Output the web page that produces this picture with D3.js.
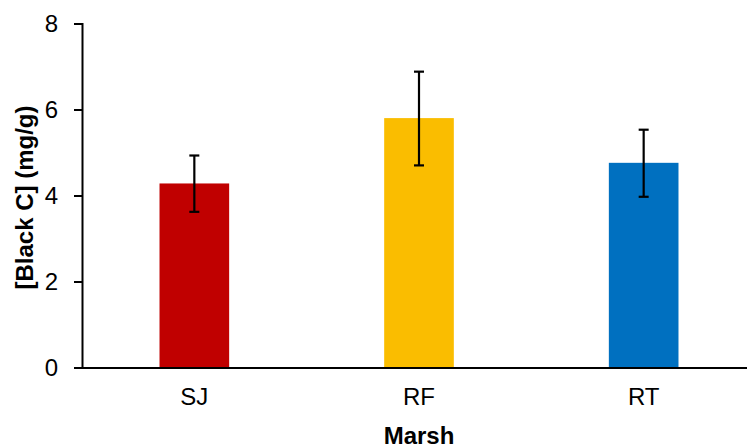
<!DOCTYPE html>
<html>
<head>
<meta charset="utf-8">
<script src="https://cdn.jsdelivr.net/npm/d3@7"></script>
<style>
  body { margin: 0; background: #fff; }
  text { font-family: "Liberation Sans", Arial, sans-serif; }
</style>
</head>
<body>
<div id="chart"></div>
<script>
// values
const marshes = ["SJ", "RF", "RT"];
const blackC = [4.28, 5.80, 4.76];
const errLow = [3.62, 4.70, 3.97];
const errHigh = [4.93, 6.88, 5.53];
const barColors = ["#C00000", "#FABD00", "#0070C0"];
const yTicks = [0, 2, 4, 6, 8];

const width = 747, height = 448;
const margin = { left: 82, right: -9, top: 23.5, bottom: 80.5 };

const svg = d3.select("#chart")
    .append("svg")
    .attr("width", width)
    .attr("height", height);

const x = d3.scaleBand()
    .domain(marshes)
    .range([margin.left, width - margin.right])
    .paddingInner(0.69)
    .paddingOuter(0.345);

const y = d3.scaleLinear()
    .domain([0, 8])
    .range([height - margin.bottom, margin.top]);

const data = marshes.map((m, i) => ({
    marsh: m, value: blackC[i], lo: errLow[i], hi: errHigh[i], color: barColors[i]
}));

// bars
svg.selectAll(".bar")
    .data(data)
    .enter()
    .append("rect")
    .attr("class", "bar")
    .attr("x", d => x(d.marsh))
    .attr("y", d => y(d.value))
    .attr("width", x.bandwidth())
    .attr("height", d => y(0) - y(d.value))
    .attr("fill", d => d.color);

// error bars
const err = svg.selectAll(".err")
    .data(data)
    .enter()
    .append("g")
    .attr("class", "err")
    .attr("stroke", "#000")
    .attr("stroke-width", 2.2);

err.append("line")
    .attr("x1", d => x(d.marsh) + x.bandwidth() / 2)
    .attr("x2", d => x(d.marsh) + x.bandwidth() / 2)
    .attr("y1", d => y(d.lo))
    .attr("y2", d => y(d.hi));

[d => d.lo, d => d.hi].forEach(acc => {
    err.append("line")
        .attr("x1", d => x(d.marsh) + x.bandwidth() / 2 - 5)
        .attr("x2", d => x(d.marsh) + x.bandwidth() / 2 + 5)
        .attr("y1", d => y(acc(d)))
        .attr("y2", d => y(acc(d)));
});

// y axis
const yAxis = svg.append("g")
    .attr("transform", `translate(${margin.left},0)`)
    .call(d3.axisLeft(y).tickValues(yTicks).tickSize(8).tickPadding(16));
yAxis.selectAll("path, line").attr("stroke", "#000").attr("stroke-width", 2);
yAxis.selectAll("text").style("font-size", "24px").attr("fill", "#000");

// x axis
const xAxis = svg.append("g")
    .attr("transform", `translate(0,${y(0)})`)
    .call(d3.axisBottom(x).tickSize(0).tickPadding(20));
xAxis.select("path").attr("stroke", "#000").attr("stroke-width", 2);
xAxis.selectAll("text").style("font-size", "24px").attr("fill", "#000");

// axis titles
svg.append("text")
    .attr("transform", `translate(33,${(y(0) + y(8)) / 2 + 2}) rotate(-90)`)
    .attr("text-anchor", "middle")
    .style("font-size", "24px")
    .style("font-weight", "bold")
    .text("[Black C] (mg/g)");

svg.append("text")
    .attr("x", x("RF") + x.bandwidth() / 2)
    .attr("y", 444)
    .attr("text-anchor", "middle")
    .style("font-size", "24px")
    .style("font-weight", "bold")
    .text("Marsh");
</script>
</body>
</html>
